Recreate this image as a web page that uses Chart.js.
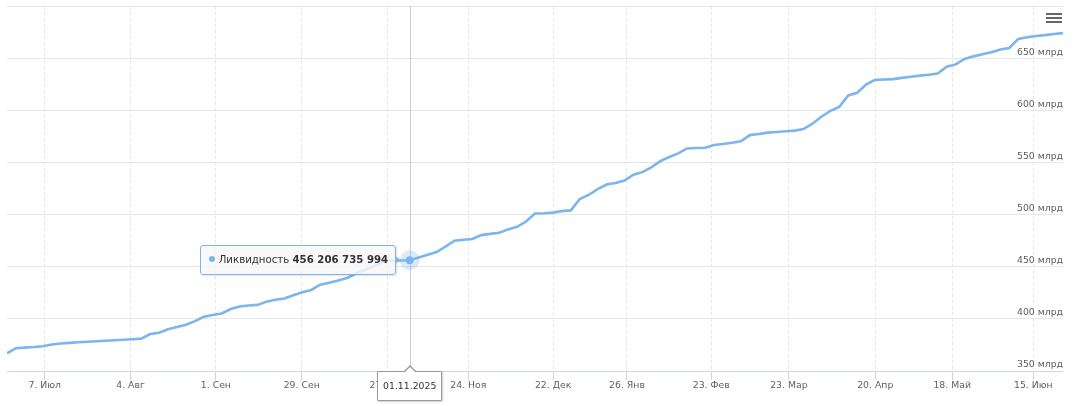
<!DOCTYPE html>
<html lang="ru">
<head>
<meta charset="utf-8">
<title>Ликвидность</title>
<script src="https://cdn.jsdelivr.net/npm/chart.js@4.4.1/dist/chart.umd.min.js"></script>
<style>
  html, body { margin: 0; padding: 0; background: #fff; }
  #wrap { position: relative; width: 1079px; height: 406px; overflow: hidden; font-family: "DejaVu Sans", sans-serif; }
  #chart { position: absolute; left: 0; top: 0; }
  .menu { position: absolute; left: 1046px; top: 12.5px; width: 16px; }
  .menu span { display: block; height: 2px; background: #666; margin-bottom: 2px; }
  #tip {
    position: absolute; height: 30px; box-sizing: border-box; padding: 0 7px 0 8px;
    font: 10.2px "DejaVu Sans", sans-serif; line-height: 28px;
    border: 1px solid #7cb5ec; border-radius: 3px;
    background: rgba(247, 247, 247, 0.85); box-shadow: 1px 1px 2px rgba(0, 0, 0, 0.12);
    color: #333; white-space: nowrap;
  }
  #tip i { display: inline-block; width: 6px; height: 6px; border-radius: 50%; background: #7cb5ec; margin-right: 4px; vertical-align: middle; position: relative; top: -1px; }
  #tip::after { content: ""; position: absolute; right: -6px; top: 50%; margin-top: -4px; border-left: 6px solid #7cb5ec; border-top: 4px solid transparent; border-bottom: 4px solid transparent; }
  #dateTip {
    position: absolute; width: 65px; height: 30px; box-sizing: border-box; border: 1px solid #999;
    font: 9.3px "DejaVu Sans", sans-serif; line-height: 28px;
    background: #fff; border-radius: 1px; box-shadow: 1px 1px 2px rgba(0, 0, 0, 0.2);
    color: #333; text-align: center;
  }
  #dateTip::before { content: ""; position: absolute; left: 50%; margin-left: -6px; top: -7px; border-bottom: 6px solid #999; border-left: 6px solid transparent; border-right: 6px solid transparent; }
  #dateTip::after { content: ""; position: absolute; left: 50%; margin-left: -5px; top: -5px; border-bottom: 5px solid #fff; border-left: 5px solid transparent; border-right: 5px solid transparent; }
</style>
</head>
<body>
<div id="wrap">
  <canvas id="chart" width="1079" height="406"></canvas>
  <div class="menu"><span></span><span></span><span></span></div>
  <div id="tip"></div>
  <div id="dateTip"></div>
</div>
<script>
// ликвидность, млрд руб., примерно каждые два торговых дня
const liquidity = [
  367.0, 371.9, 372.4, 373.0, 373.8, 375.4, 376.4, 377.0, 377.6, 378.1,
  378.6, 379.0, 379.5, 380.0, 380.5, 381.0, 385.5, 386.7, 390.1, 392.1,
  394.4, 397.8, 402.0, 403.7, 405.2, 409.4, 411.8, 412.8, 413.4, 416.5,
  418.3, 419.5, 422.7, 425.6, 427.7, 432.8, 434.6, 436.7, 439.1, 443.5,
  447.1, 450.6, 453.7, 455.8, 455.9, 456.206735994, 458.8, 461.4, 464.1, 469.2,
  474.9, 475.8, 476.6, 480.3, 481.5, 482.6, 485.8, 488.3, 493.3, 501.1,
  501.3, 501.9, 503.3, 504.0, 514.9, 518.8, 524.4, 528.8, 530.3, 532.6,
  538.2, 540.7, 545.2, 551.3, 555.2, 558.7, 563.4, 563.8, 564.1, 566.7,
  567.7, 568.8, 570.3, 576.2, 577.3, 578.6, 579.2, 579.9, 580.5, 582.0,
  587.1, 593.8, 599.4, 603.2, 614.2, 616.8, 624.6, 629.2, 629.5, 629.9,
  631.1, 632.2, 633.2, 634.0, 635.2, 641.7, 644.0, 649.2, 651.7, 653.8,
  655.7, 658.2, 659.8, 668.5, 670.0, 671.3, 672.1, 673.1, 674.0
];

// where the date ticks fall, in point index units
const tickPos = [4.22, 13.80, 23.34, 32.93, 42.51, 51.55, 61.02, 69.28, 78.69, 87.37, 97.02, 105.62, 114.68];
const tickLabels = ["7. Июл", "4. Авг", "1. Сен", "29. Сен", "27. Окт", "24. Ноя", "22. Дек",
                    "26. Янв", "23. Фев", "23. Мар", "20. Апр", "18. Май", "15. Июн"];

const seriesName = "Ликвидность";
const hoverIndex = 45;
const hoverDate = "01.11.2025";

const labelFont = { family: "DejaVu Sans", size: 9.3 };

function fmtRub(bn) {
  return String(Math.round(bn * 1e9)).replace(/\B(?=(\d{3})+(?!\d))/g, " ");
}

const crosshair = {
  id: "crosshair",
  beforeDatasetsDraw(chart) {
    const active = chart.getActiveElements();
    if (!active.length) return;
    const x = Math.round(active[0].element.x) + 0.5;
    const { top, bottom } = chart.chartArea;
    const c = chart.ctx;
    c.save();
    c.strokeStyle = "#cccccc";
    c.lineWidth = 1;
    c.beginPath();
    c.moveTo(x, top);
    c.lineTo(x, bottom);
    c.stroke();
    c.restore();
  }
};

const chart = new Chart(document.getElementById("chart"), {
  type: "line",
  data: {
    datasets: [{
      label: seriesName,
      data: liquidity.map((v, i) => ({ x: i, y: v })),
      borderColor: "#7cb5ec",
      borderWidth: 2.6,
      pointRadius: 0,
      pointHoverRadius: 4,
      pointHoverBackgroundColor: "#7cb5ec",
      pointHoverBorderColor: "rgba(124, 181, 236, 0.28)",
      pointHoverBorderWidth: 12,
      tension: 0
    }]
  },
  options: {
    responsive: false,
    animation: false,
    events: [],
    layout: { padding: { left: 7, right: 16, top: 6, bottom: 0 } },
    scales: {
      x: {
        type: "linear",
        min: 0,
        max: liquidity.length - 1,
        afterBuildTicks: s => { s.ticks = tickPos.map(v => ({ value: v })); },
        afterFit: s => { s.height = 35; },
        ticks: {
          autoSkip: false,
          maxRotation: 0,
          padding: 0,
          color: "#5e5e5e",
          font: labelFont,
          callback: (v, i) => tickLabels[i]
        },
        grid: { color: "#e6e6e6", tickColor: "#ccd6eb", tickLength: 9, tickBorderDash: [] },
        border: { display: false, dash: [3.4, 2.6] }
      },
      y: {
        position: "right",
        min: 350,
        max: 700,
        ticks: {
          stepSize: 50,
          mirror: true,
          padding: 0,
          labelOffset: -6,
          color: "#5e5e5e",
          font: labelFont,
          callback: v => v === 700 ? "" : v + " млрд"
        },
        grid: {
          drawTicks: false,
          color: ctx => ctx.tick && ctx.tick.value === 350 ? "#ccd6eb" : "#e6e6e6"
        },
        border: { display: false }
      }
    },
    plugins: {
      legend: { display: false },
      tooltip: { enabled: false }
    }
  },
  plugins: [crosshair]
});

chart.setActiveElements([{ datasetIndex: 0, index: hoverIndex }]);
chart.update();

const pt = chart.getDatasetMeta(0).data[hoverIndex];
const tip = document.getElementById("tip");
tip.innerHTML = "<i></i>" + seriesName + " <b>" + fmtRub(liquidity[hoverIndex]) + "</b>";
tip.style.left = (pt.x - 14 - tip.offsetWidth) + "px";
tip.style.top = (pt.y - tip.offsetHeight / 2) + "px";

const dateTip = document.getElementById("dateTip");
dateTip.textContent = hoverDate;
dateTip.style.left = (pt.x - dateTip.offsetWidth / 2) + "px";
dateTip.style.top = chart.scales.x.top + "px";
</script>
</body>
</html>
